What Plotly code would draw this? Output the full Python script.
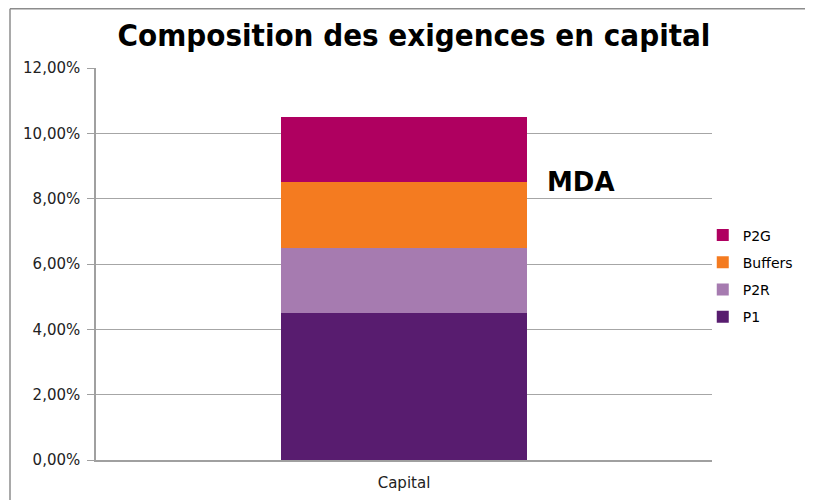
import plotly.graph_objects as go

# Data
categories = ["Capital"]
series_names = ["P1", "P2R", "Buffers", "P2G"]
series_values = [[4.5], [2.0], [2.0], [2.0]]
series_colors = ["#581C6F", "#A67BB0", "#F47B20", "#AF0060"]
legend_ranks = [4, 3, 2, 1]  # P2G listed on top
y_ticks = [0, 2, 4, 6, 8, 10, 12]
y_tick_labels = ["0,00%", "2,00%", "4,00%", "6,00%", "8,00%", "10,00%", "12,00%"]

FONT = "DejaVu Sans"
TITLE_FONT = "DejaVu Sans Condensed, Liberation Sans Narrow, DejaVu Sans"
# page body adds an 8px offset; figure fills the rest of the 813x500 window
W, H = 805, 492
MARGIN = dict(l=88, r=101, t=60, b=40)

fig = go.Figure()
for name, vals, col, rank in zip(series_names, series_values, series_colors, legend_ranks):
    fig.add_trace(go.Bar(
        x=categories, y=vals, name=name, legendgroup=name, legendrank=rank,
        marker=dict(color=col, line=dict(width=0)),
        width=0.4,
    ))

# Outer chart-area frame (top and left edges visible)
pw = W - MARGIN["l"] - MARGIN["r"]
ph = H - MARGIN["t"] - MARGIN["b"]
fx0 = (2 - MARGIN["l"]) / pw
fy1 = (H - MARGIN["b"] - 0.75) / ph
fig.add_shape(type="line", xref="paper", yref="paper",
              x0=fx0, x1=2, y0=fy1, y1=fy1,
              line=dict(color="#8C8C8C", width=1.5))
fig.add_shape(type="line", xref="paper", yref="paper",
              x0=fx0, x1=fx0, y0=fy1, y1=-1,
              line=dict(color="#8C8C8C", width=1.5))

fig.add_annotation(
    text="<b>MDA</b>", xref="paper", yref="y",
    x=(537 - MARGIN["l"]) / pw, y=8.5, xanchor="left", yanchor="middle",
    showarrow=False, font=dict(family=FONT, size=26, color="#000000"),
)

fig.update_layout(
    width=W, height=H,
    margin=MARGIN,
    barmode="stack",
    title=dict(text="<b>Composition des exigences en capital</b>",
               x=(406 - MARGIN["l"]) / pw, xref="paper", xanchor="center",
               y=1 - 27 / H, yanchor="middle",
               font=dict(family=TITLE_FONT, size=31, color="#000000")),
    paper_bgcolor="white",
    plot_bgcolor="white",
    font=dict(family=FONT, size=15, color="#222222"),
    xaxis=dict(
        showgrid=False, showline=True, linecolor="#A0A0A0", linewidth=1.5,
        ticks="", ticklabelstandoff=8, automargin=False,
        tickfont=dict(family=FONT, size=15, color="#222222"),
        range=[-0.5, 0.5],
    ),
    yaxis=dict(
        range=[0, 12], tickvals=y_ticks, ticktext=y_tick_labels,
        showgrid=True, gridcolor="#A6A6A6", gridwidth=1,
        showline=True, linecolor="#A0A0A0", linewidth=1.5,
        ticks="outside", ticklen=7, tickcolor="#A0A0A0",
        ticklabelstandoff=4, automargin=False,
        tickfont=dict(family=FONT, size=15, color="#222222"),
        zeroline=False,
    ),
    legend=dict(
        x=0.985, xanchor="left",
        y=(452 - 268) / ph, yanchor="middle",
        traceorder="grouped",
        font=dict(family=FONT, size=14, color="#000000"),
        itemwidth=30, tracegroupgap=6,
        bgcolor="rgba(0,0,0,0)",
    ),
    showlegend=True,
)

fig.write_html("out.html")
